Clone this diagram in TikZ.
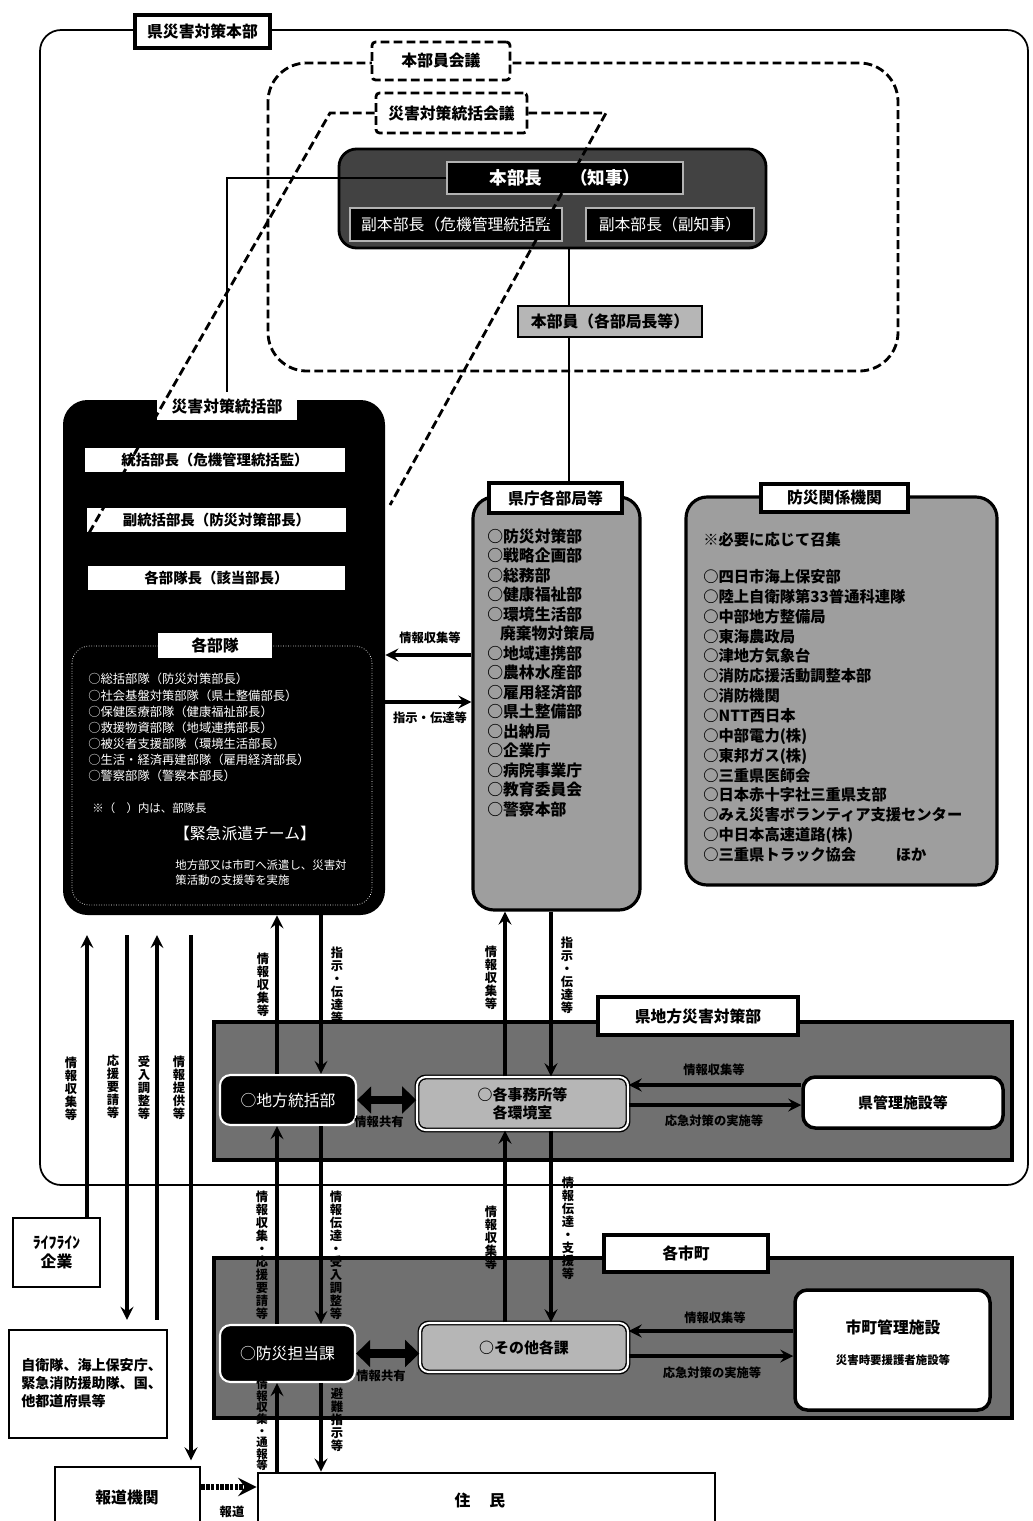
\documentclass[tikz,border=0pt]{standalone}
\usepackage{fontspec}
\setmainfont{Noto Sans CJK JP}
\usepackage{tikz}
\usetikzlibrary{arrows,arrows.meta,shapes,positioning,backgrounds}
\usepackage{xcolor}
\definecolor{hqgray}{RGB}{66,66,66}
\definecolor{bandgray}{RGB}{112,112,112}
\definecolor{listgray}{RGB}{158,158,158}
\definecolor{officegray}{RGB}{182,182,182}
\tikzset{boxsize/.style 2 args={minimum width=#1*0.02cm, minimum height=#2*0.02cm}}
\tikzstyle{titlebox} = [rectangle, draw=black, line width=1.8pt, fill=white, inner sep=0pt, font=\fontsize{9}{10}\selectfont\bfseries]
\tikzstyle{meetbox} = [rectangle, rounded corners=2pt, draw=black, line width=1.6pt, dash pattern=on 5pt off 2.4pt, fill=white, inner sep=0pt, font=\fontsize{9}{10}\selectfont\bfseries]
\tikzstyle{meetline} = [line width=1.6pt, dash pattern=on 5pt off 2.4pt]
\tikzstyle{hqbar} = [rectangle, fill=black, draw=gray!60, line width=0.6pt, text=white, inner sep=0pt, font=\fontsize{9}{10}\selectfont]
\tikzstyle{whitebar} = [rectangle, fill=white, inner sep=0pt, font=\fontsize{8.2}{10}\selectfont\bfseries]
\tikzstyle{listbox} = [rectangle, rounded corners=12pt, draw=black, line width=1.8pt, fill=listgray, inner sep=0pt]
\tikzstyle{band} = [rectangle, draw=black, line width=1.8pt, fill=bandgray, inner sep=0pt]
\tikzstyle{unitbox} = [rectangle, rounded corners=6pt, draw=white, line width=1.2pt, fill=black, text=white, inner sep=0pt, font=\fontsize{9}{10}\selectfont]
\tikzstyle{officebox} = [rectangle, rounded corners=5pt, draw=black, double=white, double distance=1.2pt, line width=0.8pt, fill=officegray, inner sep=0pt, align=center, font=\fontsize{8.5}{10}\selectfont\bfseries]
\tikzstyle{facility} = [rectangle, rounded corners=7pt, draw=black, line width=2pt, fill=white, inner sep=0pt, align=center, font=\fontsize{8.5}{10}\selectfont\bfseries]
\tikzstyle{plainbox} = [rectangle, draw=black, line width=1.6pt, fill=white, inner sep=0pt]
\tikzstyle{arrow} = [line width=2.2pt,->,>=stealth]
\tikzstyle{thinline} = [line width=0.8pt]
\tikzstyle{fatarrow} = [line width=5pt,{Triangle[length=8pt,width=15pt]}-{Triangle[length=8pt,width=15pt]}]
\tikzstyle{pressarrow} = [line width=3.5pt, dash pattern=on 2pt off 0.7pt, ->, >=stealth]
\tikzstyle{vlabel} = [align=center, inner sep=0pt, font=\fontsize{7}{7.4}\selectfont\bfseries]
\tikzstyle{hlabel} = [inner sep=0pt, font=\fontsize{7}{8}\selectfont\bfseries]

\begin{document}
\begin{tikzpicture}[x=0.02cm, y=-0.02cm]
\useasboundingbox (0,0) rectangle (1032,1521);

% Headquarters frame
\draw[line width=1pt, rounded corners=12pt] (40,30) rectangle (1028,1185);
\node[titlebox, boxsize={135}{33}] (hqframe) at (202.5,31.5) {県災害対策本部};

% Meetings
\draw[meetline, rounded corners=22pt] (268,63) rectangle (898,371);
\node[meetbox, boxsize={138}{38}] (members) at (441,61) {本部員会議};
\node[meetbox, boxsize={151}{40}] (council) at (451.5,113) {災害対策統括会議};

% Chief and deputies
\node[rectangle, rounded corners=10pt, draw=black, line width=1.6pt, fill=hqgray, inner sep=0pt, boxsize={427}{99}] (hq) at (552.5,198.5) {};
\node[hqbar, boxsize={236}{32}, font=\fontsize{10}{11}\selectfont\bfseries] (chief) at (565,178) {本部長\hspace{1.6em}（知事）};
\node[hqbar, boxsize={212}{33}] (deputyA) at (456,224.5) {副本部長（危機管理統括監};
\node[hqbar, boxsize={168}{33}] (deputyB) at (670,224.5) {副本部長（副知事）};
\node[rectangle, draw=black, line width=1.6pt, fill=officegray, inner sep=0pt, font=\fontsize{9}{10}\selectfont\bfseries, boxsize={184}{31}] (honbuin) at (610,321.5) {本部員（各部局長等）};

% Integrated command
\node[rectangle, rounded corners=14pt, fill=black, inner sep=0pt, boxsize={322}{515}] (command) at (224,657.5) {};
\node[whitebar, font=\fontsize{9}{10}\selectfont\bfseries, boxsize={140}{28}] (commandtitle) at (227,406) {災害対策統括部};
\node[whitebar, boxsize={260}{24}] (cmdchief) at (215,460) {統括部長（危機管理統括監）};
\node[whitebar, boxsize={259}{24}] (cmddeputy) at (216.5,520) {副統括部長（防災対策部長）};
\node[whitebar, boxsize={257}{24}] (unitchiefs) at (216.5,578) {各部隊長（該当部長）};
\draw[white, densely dotted, rounded corners=10pt] (72,646) rectangle (372,905);
\node[whitebar, font=\fontsize{9}{10}\selectfont\bfseries, boxsize={114}{25}] (units) at (215,645.5) {各部隊};
\node[anchor=north west, text=white, align=left, inner sep=0pt, font=\fontsize{7}{9.2}\selectfont] (unitlist) at (88,673) {
○総括部隊（防災対策部長）\\
○社会基盤対策部隊（県土整備部長）\\
○保健医療部隊（健康福祉部長）\\
○救援物資部隊（地域連携部長）\\
○被災者支援部隊（環境生活部長）\\
○生活・経済再建部隊（雇用経済部長）\\
○警察部隊（警察本部長）
};
\node[anchor=west, text=white, inner sep=0pt, font=\fontsize{6.5}{7}\selectfont] (unitnote) at (92,808) {※（　）内は、部隊長};
\node[text=white, inner sep=0pt, font=\fontsize{9}{10}\selectfont] (team) at (245,833) {【緊急派遣チーム】};
\node[anchor=north west, text=white, align=left, inner sep=0pt, font=\fontsize{6.5}{9}\selectfont] (teamnote) at (175,859) {地方部又は市町へ派遣し、災害対\\策活動の支援等を実施};

% Departments
\node[listbox, boxsize={167}{413}] (depts) at (556.5,703.5) {};
\node[titlebox, boxsize={133}{30}] (deptstitle) at (555.5,498) {県庁各部局等};
\node[anchor=north west, align=left, inner sep=0pt, font=\fontsize{9}{11.1}\selectfont\bfseries] (deptlist) at (487,528) {
○防災対策部\\
○戦略企画部\\
○総務部\\
○健康福祉部\\
○環境生活部\\
\hspace{0.8em}廃棄物対策局\\
○地域連携部\\
○農林水産部\\
○雇用経済部\\
○県土整備部\\
○出納局\\
○企業庁\\
○病院事業庁\\
○教育委員会\\
○警察本部
};

% Related agencies
\node[listbox, boxsize={311}{388}] (agencies) at (841.5,691) {};
\node[titlebox, boxsize={147}{28}] (agenciestitle) at (834.5,498) {防災関係機関};
\node[anchor=west, inner sep=0pt, font=\fontsize{8.7}{10}\selectfont\bfseries] (agencynote) at (703,540) {※必要に応じて召集};
\node[anchor=north west, align=left, inner sep=0pt, font=\fontsize{8.7}{11.3}\selectfont\bfseries] (agencylist) at (703,569) {
○四日市海上保安部\\
○陸上自衛隊第33普通科連隊\\
○中部地方整備局\\
○東海農政局\\
○津地方気象台\\
○消防応援活動調整本部\\
○消防機関\\
○NTT西日本\\
○中部電力(株)\\
○東邦ガス(株)\\
○三重県医師会\\
○日本赤十字社三重県支部\\
○みえ災害ボランティア支援センター\\
○中日本高速道路(株)\\
○三重県トラック協会\hspace{2.6em}ほか
};

% Regional office
\node[band, boxsize={798}{138}] (region) at (613,1091) {};
\node[titlebox, boxsize={200}{38}] (regiontitle) at (698,1016) {県地方災害対策部};
\node[unitbox, boxsize={136}{50}] (regionhq) at (288,1100) {○地方統括部};
\node[officebox, boxsize={211}{53}] (offices) at (522.5,1103.5) {○各事務所等\\各環境室};
\node[facility, boxsize={200}{51}] (prefacil) at (903,1102.5) {県管理施設等};

% Municipalities
\node[band, boxsize={798}{160}] (muni) at (613,1338) {};
\node[titlebox, boxsize={164}{37}] (munititle) at (686,1253.5) {各市町};
\node[unitbox, boxsize={135}{57}] (munihq) at (287.5,1353.5) {○防災担当課};
\node[officebox, boxsize={208}{49}] (sections) at (524,1347.5) {○その他各課};
\node[facility, boxsize={195}{120}] (munifacil) at (892.5,1350) {};
\node[inner sep=0pt, font=\fontsize{9}{10}\selectfont\bfseries] (munifacilname) at (893,1327) {市町管理施設};
\node[inner sep=0pt, font=\fontsize{6.5}{7}\selectfont\bfseries] (munifacilsub) at (893,1360) {災害時要援護者施設等};

% Outside bodies
\node[plainbox, boxsize={87}{69}, align=center, font=\fontsize{9}{11}\selectfont\bfseries] (lifeline) at (56.5,1252.5) {ﾗｲﾌﾗｲﾝ\\企業};
\node[plainbox, boxsize={158}{108}] (sdf) at (88,1384) {};
\node[anchor=west, align=left, inner sep=0pt, font=\fontsize{8}{10.2}\selectfont\bfseries] (sdftext) at (21,1383) {自衛隊、海上保安庁、\\緊急消防援助隊、国、\\他都道府県等};
\node[plainbox, boxsize={145}{68}] (hodo) at (127.5,1501) {};
\node[inner sep=0pt, font=\fontsize{9}{10}\selectfont\bfseries] (hodotext) at (127,1497) {報道機関};
\node[plainbox, boxsize={457}{62}] (jumin) at (486.5,1504) {};
\node[inner sep=0pt, font=\fontsize{9}{10}\selectfont\bfseries] (jumintext) at (480,1500) {住\hspace{1.2em}民};

% Lines in the headquarters
\coordinate (hqdrop) at (569,0);
\draw[thinline] (chief.west) -| (commandtitle.north);
\draw[thinline] (hqdrop |- hq.south) -- (hqdrop |- honbuin.north);
\draw[thinline] (hqdrop |- honbuin.south) -- (hqdrop |- deptstitle.north);

% Command <-> departments
\coordinate (rowinfo) at (0,655);
\coordinate (rowcmd) at (0,702);
\draw[arrow] (depts.west |- rowinfo) -- (command.east |- rowinfo);
\draw[arrow] (command.east |- rowcmd) -- (depts.west |- rowcmd);
\node[hlabel] (lblinfo) at (430,638) {情報収集等};
\node[hlabel] (lblcmd) at (430,718) {指示・伝達等};

% Vertical connectors
\coordinate (colA) at (277,0);
\coordinate (colB) at (321,0);
\coordinate (colC) at (505,0);
\coordinate (colD) at (551,0);
\draw[arrow] (colA |- regionhq.north) -- (colA |- command.south);
\draw[arrow] (colB |- command.south) -- (colB |- regionhq.north);
\draw[arrow] (colA |- munihq.north) -- (colA |- regionhq.south);
\draw[arrow] (colB |- regionhq.south) -- (colB |- munihq.north);
\draw[arrow] (colA |- jumin.north) -- (colA |- munihq.south);
\draw[arrow] (colB |- munihq.south) -- (colB |- jumin.north);
\draw[arrow] (colC |- offices.north) -- (colC |- depts.south);
\draw[arrow] (colD |- depts.south) -- (colD |- offices.north);
\draw[arrow] (colC |- sections.north) -- (colC |- offices.south);
\draw[arrow] (colD |- offices.south) -- (colD |- sections.north);
\node[vlabel] (lblA1) at (263,985) {情\\報\\収\\集\\等};
\node[vlabel] (lblB1) at (337,985) {指\\示\\・\\伝\\達\\等};
\node[vlabel] (lblC1) at (491,978) {情\\報\\収\\集\\等};
\node[vlabel] (lblD1) at (567,975) {指\\示\\・\\伝\\達\\等};
\node[vlabel] (lblA2) at (262,1255) {情\\報\\収\\集\\・\\応\\援\\要\\請\\等};
\node[vlabel] (lblB2) at (336,1255) {情\\報\\伝\\達\\・\\受\\入\\調\\整\\等};
\node[vlabel] (lblC2) at (491,1238) {情\\報\\収\\集\\等};
\node[vlabel] (lblD2) at (568,1228) {情\\報\\伝\\達\\・\\支\\援\\等};
\node[vlabel, font=\fontsize{6.5}{6.6}\selectfont\bfseries] (lblA3) at (262,1425) {情\\報\\収\\集\\・\\通\\報\\等};
\node[vlabel] (lblB3) at (337,1420) {避\\難\\指\\示\\等};

% Information sharing
\draw[fatarrow] (regionhq.east) -- (regionhq.east -| offices.west);
\draw[fatarrow] (munihq.east) -- (munihq.east -| sections.west);
\node[hlabel] (lblshare1) at (379,1122) {情報共有};
\node[hlabel] (lblshare2) at (381,1376) {情報共有};

% Facilities
\coordinate (rowA) at (0,1085);
\coordinate (rowB) at (0,1105);
\coordinate (rowC) at (0,1331);
\coordinate (rowD) at (0,1356);
\draw[arrow] (prefacil.west |- rowA) -- (offices.east |- rowA);
\draw[arrow] (offices.east |- rowB) -- (prefacil.west |- rowB);
\draw[arrow] (munifacil.west |- rowC) -- (sections.east |- rowC);
\draw[arrow] (sections.east |- rowD) -- (munifacil.west |- rowD);
\node[hlabel] (lblfacA) at (714,1070) {情報収集等};
\node[hlabel] (lblfacB) at (714,1121) {応急対策の実施等};
\node[hlabel] (lblfacC) at (715,1318) {情報収集等};
\node[hlabel] (lblfacD) at (712,1373) {応急対策の実施等};

% Outside bodies connectors
\coordinate (extTop) at (0,935);
\coordinate (ext1) at (87,0);
\coordinate (ext2) at (127,0);
\coordinate (ext3) at (157,0);
\coordinate (ext4) at (191,0);
\draw[arrow] (ext1 |- lifeline.north) -- (ext1 |- extTop);
\draw[arrow, shorten >=5pt] (ext2 |- extTop) -- (ext2 |- sdf.north);
\draw[arrow, shorten <=5pt] (ext3 |- sdf.north) -- (ext3 |- extTop);
\draw[arrow, shorten >=3pt] (ext4 |- extTop) -- (ext4 |- hodo.north);
\node[vlabel] (lblext1) at (71,1089) {情\\報\\収\\集\\等};
\node[vlabel] (lblext2) at (113,1087) {応\\援\\要\\請\\等};
\node[vlabel] (lblext3) at (144,1088) {受\\入\\調\\整\\等};
\node[vlabel] (lblext4) at (179,1088) {情\\報\\提\\供\\等};
\coordinate (rowpress) at (0,1487);
\draw[pressarrow] (hodo.east |- rowpress) -- (jumin.west |- rowpress);
\node[hlabel] (lblpress) at (232,1512) {報道};

% Council links
\coordinate (councilL) at (330,113);
\coordinate (councilLend) at (85,540);
\coordinate (councilR) at (606,113);
\coordinate (councilRend) at (390,505);
\draw[meetline] (council.west) -- (councilL) -- (councilLend);
\draw[meetline] (council.east) -- (councilR) -- (councilRend);
\end{tikzpicture}
\end{document}
